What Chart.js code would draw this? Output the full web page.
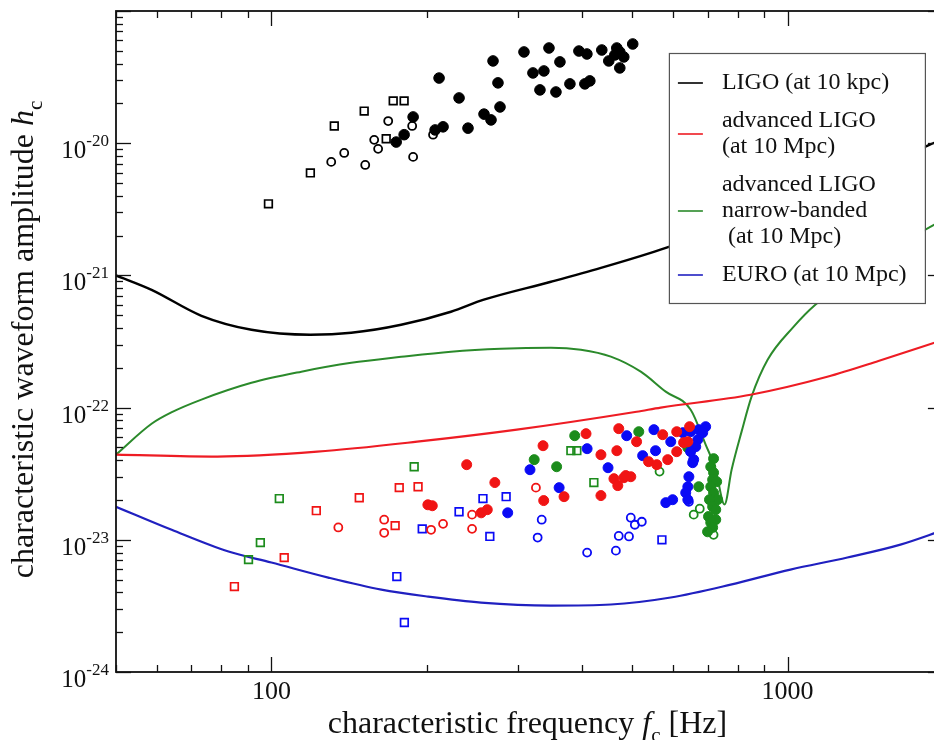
<!DOCTYPE html>
<html>
<head>
<meta charset="utf-8">
<script src="https://cdn.jsdelivr.net/npm/chart.js@4.4.1/dist/chart.umd.min.js"></script>
<style>
  html, body { margin: 0; padding: 0; background: #fff; overflow: hidden; width: 934px; height: 740px; }
  #wrap { position: absolute; left: 0; top: 0; width: 950px; height: 740px; }
  canvas { display: block; }
</style>
</head>
<body>
<div id="wrap"><canvas id="c" width="950" height="740"></canvas></div>
<script>
// ---- detector sensitivity curves: frequency [Hz] and characteristic amplitude h_c ----
const ligoFreq = [50, 58.6, 73.2, 91.5, 119, 142.8, 178.4, 222.8, 258, 348, 435, 543, 679, 848, 1060, 1324, 1655, 2000];
const ligoAmp  = [1.0e-21, 7.78e-22, 4.95e-22, 3.88e-22, 3.56e-22, 3.68e-22, 4.23e-22, 5.31e-22, 6.55e-22, 8.95e-22, 1.14e-21, 1.48e-21, 1.99e-21, 2.72e-21, 3.86e-21, 5.47e-21, 7.75e-21, 1.08e-20];

const advLigoFreq = [50, 78.6, 122.7, 191.6, 299, 510, 568, 848, 1194, 1500, 2000];
const advLigoAmp  = [4.41e-23, 4.26e-23, 4.64e-23, 5.52e-23, 6.81e-23, 9.3e-23, 1.0e-22, 1.25e-22, 1.71e-22, 2.25e-22, 3.25e-22];

const narrowFreq = [50, 58.6, 64, 73.2, 91.5, 114.3, 142.8, 178.4, 222.8, 278.4, 348, 397.8, 454.7, 519.6, 580.8, 649.2, 694, 725.6, 755, 779.4, 814.7, 851.8, 915, 1027, 1132, 1324, 1582, 2000];
const narrowAmp  = [4.41e-23, 7.55e-23, 9.2e-23, 1.15e-22, 1.54e-22, 1.87e-22, 2.18e-22, 2.42e-22, 2.65e-22, 2.79e-22, 2.84e-22, 2.74e-22, 2.43e-22, 1.87e-22, 1.32e-22, 9.64e-23, 5.25e-23, 3.40e-23, 1.85e-23, 3.40e-23, 6.58e-23, 1.21e-22, 2.30e-22, 4.08e-22, 6.0e-22, 9.3e-22, 1.56e-21, 2.63e-21];

const euroFreq = [50, 64.1, 82.6, 100, 128.9, 163.3, 201.2, 254.8, 348, 454.7, 593.8, 776, 1013, 1306, 1655, 2000];
const euroAmp  = [1.78e-23, 1.19e-23, 8.15e-24, 6.73e-24, 5.18e-24, 4.20e-24, 3.72e-24, 3.35e-24, 3.18e-24, 3.24e-24, 3.66e-24, 4.58e-24, 5.95e-24, 7.35e-24, 9.2e-24, 1.18e-23];

// ---- model signals [f_c, h_c] ----
const blackFilled = [[174.5,1.02e-20],[180.8,1.16e-20],[188.2,1.58e-20],[207.6,1.26e-20],[215.1,1.33e-20],[211.3,3.11e-20],[231.0,2.20e-20],[240.4,1.30e-20],[258.2,1.66e-20],[266.4,1.50e-20],[268.8,4.19e-20],[274.8,2.86e-20],[277.3,1.88e-20],[308.6,4.90e-20],[321.2,3.40e-20],[337.3,3.52e-20],[345.0,5.25e-20],[331.4,2.53e-20],[355.9,2.44e-20],[362.3,4.12e-20],[378.8,2.81e-20],[394.3,4.98e-20],[408.6,4.73e-20],[404.9,2.81e-20],[414.0,2.96e-20],[436.7,5.07e-20],[450.5,4.19e-20],[466.9,5.25e-20],[473.2,4.90e-20],[462.8,4.65e-20],[481.7,4.49e-20],[473.2,3.71e-20],[501.3,5.63e-20]];
const blackOpenCircle = [[130.6,7.22e-21],[138.4,8.44e-21],[152.0,6.85e-21],[158.2,1.06e-20],[161.0,9.06e-21],[168.4,1.47e-20],[187.4,1.35e-20],[188.2,7.88e-21],[205.7,1.16e-20]];
const blackOpenSquare = [[98.7,3.48e-21],[119.0,5.96e-21],[132.4,1.35e-20],[151.3,1.75e-20],[172.2,2.09e-20],[180.8,2.09e-20],[166.9,1.08e-20]];

const redFilled = [[239,3.70e-23],[201,1.84e-23],[205,1.81e-23],[271,2.71e-23],[255,1.60e-23],[262,1.69e-23],[336,5.15e-23],[337,1.98e-23],[369,2.12e-23],[407,6.35e-23],[435,4.40e-23],[435,2.16e-23],[467,4.72e-23],[471,6.93e-23],[461,2.90e-23],[469,2.57e-23],[482,2.95e-23],[497,3.00e-23],[486,3.06e-23],[510,5.52e-23],[538,3.90e-23],[558,3.70e-23],[573,6.24e-23],[586,4.04e-23],[610,6.57e-23],[610,4.64e-23],[629,5.43e-23],[646,7.17e-23],[641,5.52e-23]];
const redOpenCircle = [[134.8,1.24e-23],[165.4,1.42e-23],[165.4,1.13e-23],[203.9,1.19e-23],[215.1,1.32e-23],[244.8,1.21e-23],[244.8,1.55e-23],[325.5,2.48e-23]];
const redOpenSquare = [[84.8,4.43e-24],[105.9,7.33e-24],[122.2,1.66e-23],[148.0,2.08e-23],[176.9,2.48e-23],[192.4,2.52e-23],[173.7,1.28e-23]];

const greenFilled = [[387,6.13e-23],[515,6.57e-23],[323,4.04e-23],[357,3.57e-23],[641,4.97e-23],[673,2.52e-23],[719,4.11e-23],[710,3.57e-23],[719,3.22e-23],[716,2.85e-23],[729,2.75e-23],[710,2.52e-23],[719,2.27e-23],[732,2.01e-23],[706,2.01e-23],[716,1.78e-23],[726,1.69e-23],[703,1.50e-23],[726,1.42e-23],[710,1.35e-23],[716,1.24e-23],[700,1.15e-23]];
const greenOpenCircle = [[565,3.28e-23],[658,1.55e-23],[676,1.72e-23],[719,1.09e-23]];
const greenOpenSquare = [[103.6,2.05e-23],[95.2,9.52e-24],[90.3,7.08e-24],[189.1,3.57e-23],[380.4,4.72e-23],[390.7,4.72e-23],[421.5,2.71e-23]];

const blueFilled = [[317,3.39e-23],[409,4.89e-23],[449,3.51e-23],[361,2.48e-23],[287,1.60e-23],[488,6.13e-23],[551,6.81e-23],[555,4.72e-23],[524,4.33e-23],[594,5.52e-23],[627,6.46e-23],[649,6.57e-23],[673,6.81e-23],[694,7.17e-23],[670,5.72e-23],[664,5.06e-23],[658,4.04e-23],[655,3.83e-23],[644,3.00e-23],[641,2.52e-23],[635,2.27e-23],[641,2.01e-23],[581,1.91e-23],[599,2.01e-23],[649,4.64e-23],[685,6.46e-23]];
const blueOpenCircle = [[334,1.42e-23],[328,1.04e-23],[409,8.00e-24],[465,8.28e-24],[471,1.07e-23],[493,1.06e-23],[497,1.47e-23],[506,1.30e-23],[522,1.37e-23],[644,1.94e-23]];
const blueOpenSquare = [[257,2.05e-23],[285,2.12e-23],[231,1.63e-23],[196,1.21e-23],[265,1.06e-23],[571,1.00e-23],[175,5.27e-24],[181,2.37e-24]];

// ---- axes and legend text ----
const xTickLabels = [100, 1000];
const yTickExponents = [-24, -23, -22, -21, -20];
const curveNames = [
  ['LIGO (at 10 kpc)'],
  ['advanced LIGO', '(at 10 Mpc)'],
  ['advanced LIGO', 'narrow-banded', ' (at 10 Mpc)'],
  ['EURO (at 10 Mpc)']
];

const SERIF = '"Liberation Serif", "DejaVu Serif", serif';
const COL = { black: '#000000', red: '#f01414', green: '#1c8c1c', blue: '#0a0af5' };
const CURVE_COL = ['#000000', '#ee1c24', '#2b8a2b', '#2020c0'];

const zip = (xs, ys) => xs.map((x, i) => ({ x, y: ys[i] }));
const pts = pairs => pairs.map(([x, y]) => ({ x, y }));

function curve(freq, amp, color, width) {
  return { data: zip(freq, amp), showLine: true, borderColor: color, borderWidth: width,
           pointRadius: 0, cubicInterpolationMode: 'monotone', fill: false, order: 2 };
}
function filled(pairs, color, r) {
  return { data: pts(pairs), pointStyle: 'circle', pointRadius: r || 5, backgroundColor: color,
           borderColor: color, borderWidth: 1, showLine: false, order: 0 };
}
function openCircle(pairs, color) {
  return { data: pts(pairs), pointStyle: 'circle', pointRadius: 4, backgroundColor: 'rgba(0,0,0,0)',
           borderColor: color, borderWidth: 1.8, showLine: false, order: 1 };
}
function openSquare(pairs, color) {
  return { data: pts(pairs), pointStyle: 'rect', pointRadius: 5.4, backgroundColor: 'rgba(0,0,0,0)',
           borderColor: color, borderWidth: 1.7, showLine: false, order: 1 };
}

const datasets = [
  curve(ligoFreq, ligoAmp, CURVE_COL[0], 2.4),
  curve(advLigoFreq, advLigoAmp, CURVE_COL[1], 2.2),
  curve(narrowFreq, narrowAmp, CURVE_COL[2], 2),
  curve(euroFreq, euroAmp, CURVE_COL[3], 2.2),
  openSquare(blackOpenSquare, COL.black), openCircle(blackOpenCircle, COL.black), filled(blackFilled, COL.black, 5.3),
  openSquare(redOpenSquare, COL.red), openCircle(redOpenCircle, COL.red), filled(redFilled, COL.red),
  openSquare(greenOpenSquare, COL.green), openCircle(greenOpenCircle, COL.green),
  openSquare(blueOpenSquare, COL.blue), openCircle(blueOpenCircle, COL.blue), filled(blueFilled, COL.blue),
  filled(greenFilled, COL.green)
];

// text made of runs with different fonts / offsets, centred on cx
function drawRuns(ctx, runs, cx, cy) {
  let total = 0;
  runs.forEach(r => { ctx.font = r.font; r.w = ctx.measureText(r.t).width; total += r.w; });
  let x = cx - total / 2;
  runs.forEach(r => { ctx.font = r.font; ctx.fillText(r.t, x, cy + (r.dy || 0)); x += r.w; });
}

// frame with inward log ticks on all sides, tick labels and axis titles
const axesPlugin = {
  id: 'axesFrame',
  afterDatasetsDraw(chart) {
    const { ctx, chartArea: a, scales: { x, y } } = chart;
    ctx.save();
    ctx.strokeStyle = '#111';
    ctx.fillStyle = '#111';
    ctx.lineWidth = 1.8;
    ctx.strokeRect(a.left, a.top, a.right - a.left, a.bottom - a.top);

    ctx.lineWidth = 1.3;
    const seg = (x1, y1, x2, y2) => { ctx.beginPath(); ctx.moveTo(x1, y1); ctx.lineTo(x2, y2); ctx.stroke(); };
    for (let d = 1; d <= 3; d++) {
      for (let m = 1; m <= 9; m++) {
        const v = m * Math.pow(10, d);
        if (v < x.min || v > x.max) continue;
        const px = Math.round(x.getPixelForValue(v)) + 0.5;
        const len = m === 1 ? 15 : 7;
        seg(px, a.bottom, px, a.bottom - len);
        seg(px, a.top, px, a.top + len);
      }
    }
    for (let d = -24; d <= -19; d++) {
      for (let m = 1; m <= 9; m++) {
        const v = m * Math.pow(10, d);
        if (v < y.min * 0.999 || v > y.max * 1.001) continue;
        const py = Math.round(y.getPixelForValue(v)) + 0.5;
        const len = m === 1 ? 15 : 7;
        seg(a.left, py, a.left + len, py);
        seg(a.right, py, a.right - len, py);
      }
    }

    // x tick labels
    ctx.textBaseline = 'alphabetic';
    ctx.textAlign = 'center';
    ctx.font = '26px ' + SERIF;
    xTickLabels.forEach(v => ctx.fillText(String(v), x.getPixelForValue(v), a.bottom + 27));

    // y tick labels: 10 with a raised exponent
    ctx.textAlign = 'left';
    yTickExponents.forEach(e => {
      const py = y.getPixelForValue(Math.pow(10, e));
      const exp = '-' + Math.abs(e);
      ctx.font = '17px ' + SERIF;
      const we = ctx.measureText(exp).width;
      ctx.font = '25px ' + SERIF;
      const wb = ctx.measureText('10').width;
      const x0 = a.left - 7 - we - wb;
      ctx.fillText('10', x0, py + 15);
      ctx.font = '17px ' + SERIF;
      ctx.fillText(exp, x0 + wb, py + 3);
    });

    // axis titles
    const big = '32px ' + SERIF, ital = 'italic 32px ' + SERIF, sub = '21px ' + SERIF;
    drawRuns(ctx, [
      { t: 'characteristic frequency ', font: big },
      { t: 'f', font: ital },
      { t: 'c', font: sub, dy: 9 },
      { t: ' [Hz]', font: big }
    ], (a.left + a.right) / 2 - 2, 733);

    ctx.save();
    ctx.translate(33, (a.top + a.bottom) / 2 - 2);
    ctx.rotate(-Math.PI / 2);
    drawRuns(ctx, [
      { t: 'characteristic waveform amplitude ', font: big },
      { t: 'h', font: ital },
      { t: 'c', font: sub, dy: 9 }
    ], 0, 0);
    ctx.restore();
    ctx.restore();
  }
};

// boxed legend for the four detector curves
const legendPlugin = {
  id: 'curveLegend',
  afterDraw(chart) {
    const { ctx, chartArea: a } = chart;
    const left = a.right - 274, top = a.top + 42, w = 256, h = 250;
    ctx.save();
    ctx.fillStyle = '#fff';
    ctx.fillRect(left, top, w, h);
    ctx.strokeStyle = '#555';
    ctx.lineWidth = 1.2;
    ctx.strokeRect(left + 0.5, top + 0.5, w, h);
    ctx.font = '24px ' + SERIF;
    ctx.textAlign = 'left';
    ctx.textBaseline = 'middle';
    let yy = top + 30;
    curveNames.forEach((lines, i) => {
      const mid = yy + (lines.length - 1) * 13;
      ctx.strokeStyle = CURVE_COL[i];
      ctx.lineWidth = 1.6;
      ctx.beginPath(); ctx.moveTo(left + 9, mid); ctx.lineTo(left + 34, mid); ctx.stroke();
      ctx.fillStyle = '#111';
      lines.forEach((t, k) => ctx.fillText(t, left + 53, yy + k * 26));
      yy += lines.length * 26 + 12;
    });
    ctx.restore();
  }
};

new Chart(document.getElementById('c').getContext('2d'), {
  type: 'scatter',
  data: { datasets },
  options: {
    responsive: false,
    animation: false,
    events: [],
    layout: { padding: { left: 116, top: 11, right: 7, bottom: 68 } },
    scales: {
      x: { type: 'logarithmic', min: 50, max: 2000, display: false },
      y: { type: 'logarithmic', min: 1e-24, max: 1e-19, display: false }
    },
    plugins: { legend: { display: false }, tooltip: { enabled: false } }
  },
  plugins: [axesPlugin, legendPlugin]
});
</script>
</body>
</html>
